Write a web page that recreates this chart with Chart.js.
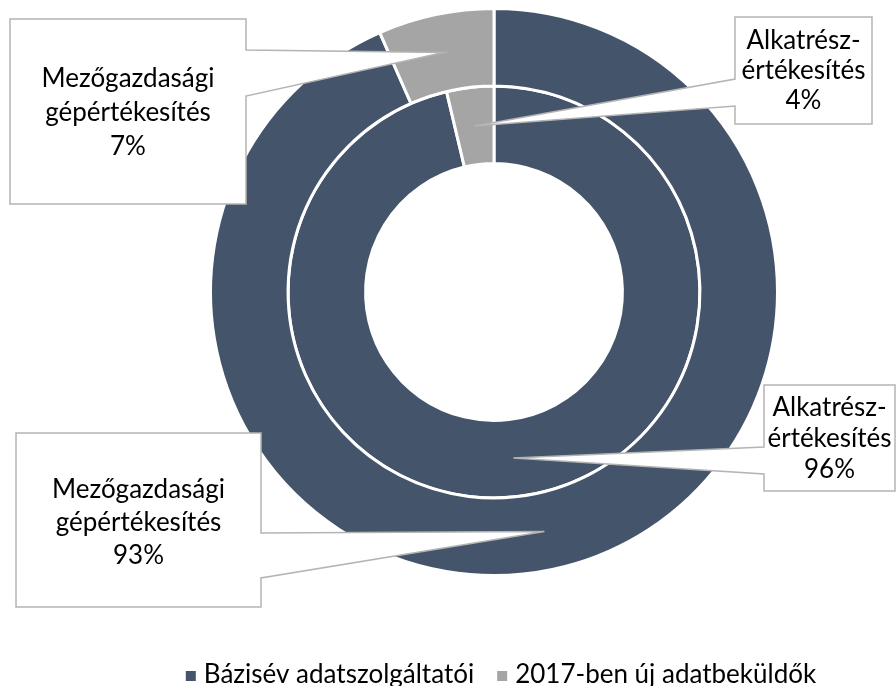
<!DOCTYPE html>
<html>
<head>
<meta charset="utf-8">
<script src="https://cdn.jsdelivr.net/npm/chart.js@4.4.0/dist/chart.umd.min.js"></script>
<style>
html,body{margin:0;padding:0;background:#fff;}
#wrap{width:896px;height:686px;position:relative;}
</style>
</head>
<body>
<div id="wrap"><canvas id="c" width="896" height="686"></canvas></div>
<script>
// ---- data ----
const seriesLabels = ['Bázisév adatszolgáltatói', '2017-ben új adatbeküldők'];
const outerRingName = ['Mezőgazdasági', 'gépértékesítés'];
const innerRingName = ['Alkatrész-', 'értékesítés'];
const outerValues = [93.4, 6.6];   // Mezőgazdasági gépértékesítés (labels show 93% / 7%)
const innerValues = [96.3, 3.7];   // Alkatrész-értékesítés (labels show 96% / 4%)
const seriesColors = ['#44546A', '#A5A5A5'];

// ---- layout of the callout boxes (positions only) ----
const calloutLayout = [
  {ds: 0, idx: 1, box: [10, 19, 236, 185], side: 'right', anchor: [50, 96], lh: 34, dy: 1},
  {ds: 1, idx: 1, box: [735, 17, 137, 107], side: 'left', anchor: [79, 106], lh: 30, dy: 0},
  {ds: 1, idx: 0, box: [764, 385, 131, 106], side: 'left', anchor: [447, 474], lh: 31, dy: 1},
  {ds: 0, idx: 0, box: [16, 433, 245, 174], side: 'right', anchor: [533, 578], lh: 33, dy: 3}
];
const FONT = '"Lato", "Open Sans", sans-serif';

const calloutPlugin = {
  id: 'callouts',
  afterDraw(chart) {
    const ctx = chart.ctx;
    const ringNames = [outerRingName, innerRingName];
    calloutLayout.forEach(c => {
      const meta = chart.getDatasetMeta(c.ds);
      const el = meta.data[c.idx];
      const tip = el.getCenterPoint();
      const [x, y, w, h] = c.box;
      ctx.save();
      ctx.beginPath();
      if (c.side === 'right') {
        ctx.moveTo(x, y);
        ctx.lineTo(x + w, y);
        ctx.lineTo(x + w, c.anchor[0]);
        ctx.lineTo(tip.x, tip.y);
        ctx.lineTo(x + w, c.anchor[1]);
        ctx.lineTo(x + w, y + h);
        ctx.lineTo(x, y + h);
        ctx.closePath();
      } else {
        ctx.moveTo(x, y);
        ctx.lineTo(x + w, y);
        ctx.lineTo(x + w, y + h);
        ctx.lineTo(x, y + h);
        ctx.lineTo(x, c.anchor[1]);
        ctx.lineTo(tip.x, tip.y);
        ctx.lineTo(x, c.anchor[0]);
        ctx.closePath();
      }
      ctx.fillStyle = '#ffffff';
      ctx.fill();
      ctx.strokeStyle = '#b4b4b4';
      ctx.lineWidth = 1.5;
      ctx.lineJoin = 'miter';
      ctx.stroke();

      const value = chart.data.datasets[c.ds].data[c.idx];
      const lines = ringNames[c.ds].concat([Math.round(value) + '%']);
      ctx.fillStyle = '#000';
      ctx.font = '26px ' + FONT;
      ctx.textAlign = 'center';
      ctx.textBaseline = 'middle';
      const lh = c.lh;
      const cy = y + h / 2 + c.dy;
      lines.forEach((t, i) => {
        ctx.fillText(t, x + w / 2, cy + (i - (lines.length - 1) / 2) * lh);
      });
      ctx.restore();
    });

    // legend
    ctx.save();
    ctx.font = '26px ' + FONT;
    ctx.textBaseline = 'middle';
    ctx.textAlign = 'left';
    const box = 10, gapBox = 8, gapItem = 23, ly = 675;
    const widths = seriesLabels.map(t => ctx.measureText(t).width);
    let total = 0;
    widths.forEach((wd, i) => { total += box + gapBox + wd + (i ? gapItem : 0); });
    let lx = 501 - total / 2;
    seriesLabels.forEach((t, i) => {
      ctx.fillStyle = seriesColors[i];
      ctx.fillRect(lx, ly - box / 2 + 1, box, box);
      ctx.fillStyle = '#000';
      ctx.fillText(t, lx + box + gapBox, ly);
      lx += box + gapBox + widths[i] + gapItem;
    });
    ctx.restore();
  }
};

new Chart(document.getElementById('c'), {
  type: 'doughnut',
  data: {
    labels: seriesLabels,
    datasets: [
      {label: outerRingName.join(' '), data: outerValues, backgroundColor: seriesColors,
       borderColor: '#ffffff', borderWidth: 3, hoverOffset: 0},
      {label: innerRingName.join(' '), data: innerValues, backgroundColor: seriesColors,
       borderColor: '#ffffff', borderWidth: 3, hoverOffset: 0}
    ]
  },
  options: {
    responsive: false,
    animation: false,
    radius: 283.5,
    cutout: '45.3%',
    layout: {padding: {top: 10, bottom: 112, left: 92, right: 0}},
    plugins: {
      legend: {display: false},
      tooltip: {enabled: false}
    }
  },
  plugins: [calloutPlugin]
});
</script>
</body>
</html>
